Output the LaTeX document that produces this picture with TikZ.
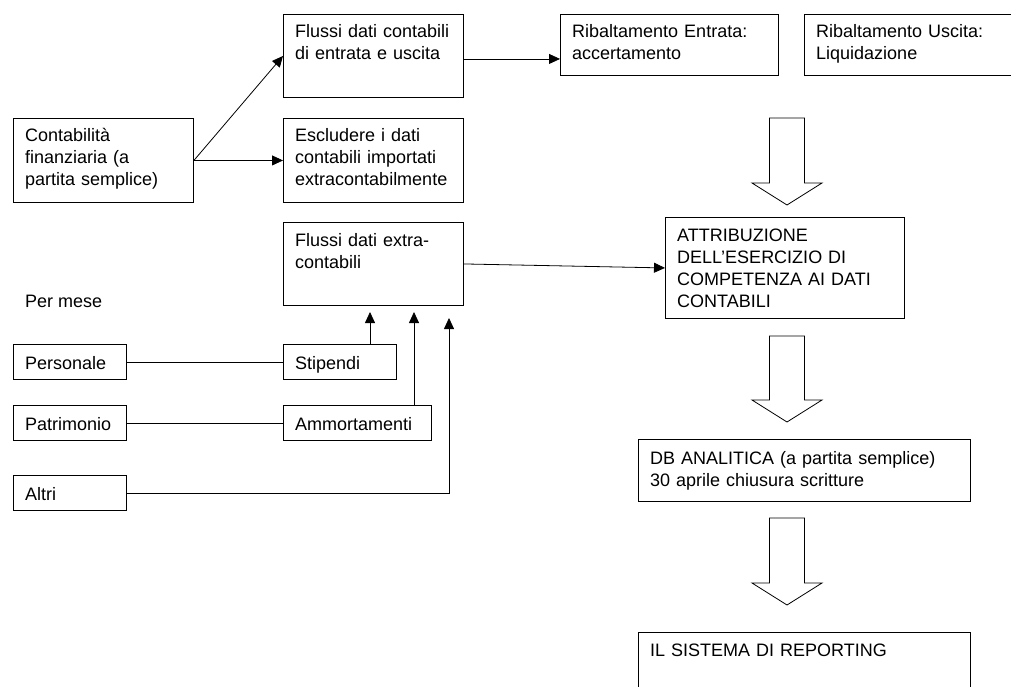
\documentclass[tikz,border=0pt]{standalone}
\usepackage{fontspec}
\setmainfont{Liberation Sans}
\usetikzlibrary{calc,arrows.meta}
\def\blockarrow(#1)(#2){\draw[line width=0.8pt] ($(#1)+(-17.5,0)$) -- ($(#2)+(-17.5,-22)$) -- ($(#2)+(-35,-22)$) -- (#2) -- ($(#2)+(35,-22)$) -- ($(#2)+(17.5,-22)$) -- ($(#1)+(17.5,0)$) -- cycle;}
\def\flowbox(#1)(#2,#3)(#4,#5)[#6]#7{%
	\node[box, minimum width=#4, minimum height=#5] (#1) at (#2,#3) {};
	\pgfmathsetmacro\tw{#4-14}
	\node[txt, text width=\tw pt] (#1-t) at ($(#1.north west)+(12,#6)$) {#7};
}
\tikzset{
	box/.style={draw, anchor=north west, inner sep=0pt, line width=0.9pt},
	txt/.style={anchor=base west, inner sep=0pt, align=left, font=\fontsize{18}{22}\selectfont},
	arr/.style={-{Triangle[length=11pt,width=10pt]}, line width=0.8pt},
}

\begin{document}
\begin{tikzpicture}[x=1pt,y=-1pt]
				%%%%% START %%%%%
				\useasboundingbox (0,0) rectangle (1011,687);
				\clip (0,0) rectangle (1011,687);
				
				\flowbox(conta)(13,118)(180,84)[23.5]{Contabilità\\finanziaria (a\\partita semplice)}
				\flowbox(flussi)(283,14)(180,83)[24]{Flussi dati contabili\\di entrata e uscita}
				\flowbox(escl)(283,118)(180,84)[23.5]{Escludere i dati\\contabili importati\\extracontabilmente}
				\flowbox(extra)(283,222)(180,83)[24]{Flussi dati extra-\\contabili}
				
				\flowbox(ribE)(560,14)(218,61)[24]{Ribaltamento Entrata:\\accertamento}
				\flowbox(ribU)(804,14)(218,61)[24]{Ribaltamento Uscita:\\Liquidazione}
				\flowbox(attr)(665,217)(239,101)[24]{ATTRIBUZIONE\\DELL’ESERCIZIO DI\\COMPETENZA AI DATI\\CONTABILI}
				\flowbox(db)(638,439)(332,62)[25]{DB ANALITICA (a partita semplice)\\30 aprile chiusura scritture}
				\flowbox(rep)(638,632)(332,80)[24]{IL SISTEMA DI REPORTING}
				
				\node[txt] (mese) at (25,307) {Per mese};
				\flowbox(pers)(13,344)(113,35)[25]{Personale}
				\flowbox(stip)(283,344)(113,35)[25]{Stipendi}
				\flowbox(patr)(13,405)(113,35)[25]{Patrimonio}
				\flowbox(amm)(283,405)(148,35)[25]{Ammortamenti}
				\flowbox(altri)(13,475)(113,35)[25]{Altri}
				
				% frecce
				\draw[arr] (conta.east) -- (flussi.west);
				\draw[arr] (conta.east) -- (escl.west);
				\coordinate (fo) at ([yshift=-3pt]flussi.east);
				\draw[arr] (fo) -- (fo -| ribE.west);
				\draw[arr] (extra.east) -- (attr.west);
				
				\draw[line width=0.8pt] (pers) -- (stip);
				\draw[line width=0.8pt] (patr) -- (amm);
				\coordinate (inS) at (370,312);
				\coordinate (inA) at (414,312);
				\coordinate (inO) at (449,318);
				\draw[arr] (stip.north -| inS) -- (inS);
				\draw[arr] (amm.north -| inA) -- (inA);
				\draw[arr] (altri.east) -| (inO);
				
				% frecce grandi
				\coordinate (a1) at (787,118); \coordinate (a1tip) at (787,205);
				\coordinate (a2) at (787,336); \coordinate (a2tip) at (787,422);
				\coordinate (a3) at (787,518); \coordinate (a3tip) at (787,605);
				\blockarrow(a1)(a1tip)
				\blockarrow(a2)(a2tip)
				\blockarrow(a3)(a3tip)
				%%%%% END %%%%%
\end{tikzpicture}
\end{document}
